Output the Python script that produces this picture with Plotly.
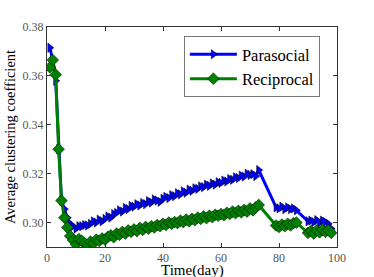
import plotly.graph_objects as go

days = list(range(1, 74)) + list(range(79, 87)) + list(range(90, 99))

parasocial = [
    0.3715, 0.3665, 0.3580, 0.3300, 0.3090, 0.3055, 0.3020, 0.2995, 0.2985, 0.2975,
    0.2985, 0.2985, 0.2990, 0.2988, 0.2995, 0.3005, 0.3000, 0.3012, 0.3005, 0.3015,
    0.3025, 0.3020, 0.3035, 0.3040, 0.3050, 0.3045, 0.3060, 0.3055, 0.3068, 0.3065,
    0.3075, 0.3070, 0.3080, 0.3075, 0.3088, 0.3082, 0.3095, 0.3090, 0.3085, 0.3098,
    0.3105, 0.3100, 0.3112, 0.3108, 0.3120, 0.3115, 0.3128, 0.3122, 0.3135, 0.3130,
    0.3140, 0.3138, 0.3148, 0.3145, 0.3155, 0.3150, 0.3160, 0.3155, 0.3165, 0.3162,
    0.3172, 0.3168, 0.3178, 0.3175, 0.3185, 0.3182, 0.3192, 0.3188, 0.3200, 0.3195,
    0.3198, 0.3190, 0.3215,
    0.3062, 0.3058, 0.3065, 0.3055, 0.3062, 0.3055, 0.3058, 0.3050,
    0.3005, 0.3008, 0.3002, 0.3010, 0.3000, 0.3008, 0.3002, 0.2995, 0.2975,
]

reciprocal = [
    0.3635, 0.3665, 0.3605, 0.3300, 0.3090, 0.3020, 0.2980, 0.2945, 0.2928, 0.2910,
    0.2932, 0.2925, 0.2915, 0.2908, 0.2922, 0.2915, 0.2930, 0.2925, 0.2935, 0.2930,
    0.2942, 0.2948, 0.2940, 0.2955, 0.2950, 0.2962, 0.2955, 0.2968, 0.2962, 0.2972,
    0.2965, 0.2978, 0.2970, 0.2982, 0.2975, 0.2985, 0.2980, 0.2990, 0.2985, 0.2995,
    0.2990, 0.3000, 0.2995, 0.3002, 0.2998, 0.3008, 0.3002, 0.3012, 0.3005, 0.3015,
    0.3010, 0.3020, 0.3015, 0.3025, 0.3018, 0.3028, 0.3022, 0.3032, 0.3028, 0.3035,
    0.3030, 0.3040, 0.3035, 0.3045, 0.3038, 0.3048, 0.3042, 0.3052, 0.3045, 0.3058,
    0.3050, 0.3062, 0.3072,
    0.2988, 0.2982, 0.2992, 0.2985, 0.2995, 0.2988, 0.2998, 0.3000,
    0.2958, 0.2965, 0.2955, 0.2968, 0.2960, 0.2970, 0.2962, 0.2968, 0.2958,
]

x_ticks = [0, 20, 40, 60, 80, 100]
y_ticks = [0.30, 0.32, 0.34, 0.36, 0.38]
y_tick_labels = ["0.30", "0.32", "0.34", "0.36", "0.38"]

font_family = "Liberation Serif"

fig = go.Figure()
fig.add_trace(go.Scatter(
    x=days, y=parasocial, name="Parasocial", mode="lines+markers",
    line=dict(color="#0000ff", width=3),
    marker=dict(symbol="triangle-right", size=8, color="#0000ff",
                line=dict(color="#000033", width=0.6)),
))
fig.add_trace(go.Scatter(
    x=days, y=reciprocal, name="Reciprocal", mode="lines+markers",
    line=dict(color="#008000", width=3),
    marker=dict(symbol="diamond", size=9, color="#008000",
                line=dict(color="#002200", width=0.6)),
))

axis_common = dict(
    showline=True, linecolor="#333333", linewidth=1, mirror="allticks",
    ticks="inside", ticklen=4, tickcolor="#333333", showgrid=False, zeroline=False,
    automargin=False,
    tickfont=dict(family=font_family, size=12, color="#555555"),
)

fig.update_layout(
    width=374, height=277,
    margin=dict(l=47, r=37, t=27, b=30),
    paper_bgcolor="white", plot_bgcolor="white",
    font=dict(family=font_family, color="black"),
    xaxis=dict(range=[0, 100], tickvals=x_ticks, **axis_common),
    yaxis=dict(range=[0.29, 0.38], tickvals=y_ticks, ticktext=y_tick_labels,
               title=dict(text="Average clustering coefficient", font=dict(family=font_family, size=14.5), standoff=3),
               **axis_common),
    legend=dict(x=0.472, y=0.959, xanchor="left", yanchor="top",
                bordercolor="#777777", borderwidth=1, bgcolor="white",
                font=dict(family=font_family, size=16.5), itemwidth=47,
                tracegroupgap=0),
    showlegend=True,
)

fig.add_annotation(
    text="Time(day)", xref="paper", yref="paper", x=0.5, y=0,
    xanchor="center", yanchor="bottom", yshift=-33, showarrow=False,
    borderpad=0, font=dict(family=font_family, size=15, color="black"),
)

fig.write_html("out.html", config={"displayModeBar": False},
               post_script="document.body.style.margin='0';document.body.style.overflow='hidden';")
